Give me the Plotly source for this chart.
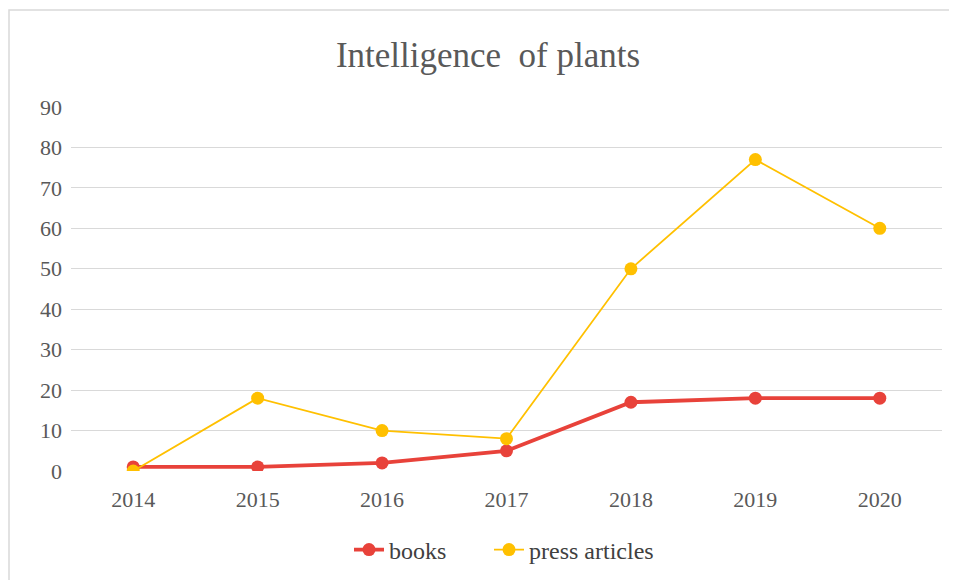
import plotly.graph_objects as go

years = ["2014", "2015", "2016", "2017", "2018", "2019", "2020"]
books = [1, 1, 2, 5, 17, 18, 18]
press_articles = [0, 18, 10, 8, 50, 77, 60]

RED = "#E8423A"
YELLOW = "#FFC000"
TXT = "#595959"
FONT = "Liberation Serif"

fig = go.Figure()
fig.add_trace(go.Scatter(x=years, y=books, name="books", mode="lines+markers",
                         line=dict(color=RED, width=3.8),
                         marker=dict(color=RED, size=13), legend="legend"))
fig.add_trace(go.Scatter(x=years, y=press_articles, name="press articles", mode="lines+markers",
                         line=dict(color=YELLOW, width=1.8),
                         marker=dict(color=YELLOW, size=13), legend="legend2"))

# page body has an 8px margin; compensate so the plot area sits at x 71..942, y 107..471
W, H = 949, 572
L, R, T, B = 63, 15, 99, 109
pw = W - L - R
ph = H - T - B
OX = 8 + L  # page x of plot left edge

leg_common = dict(orientation="h", xanchor="left",
                  y=-(550 - 8 - T - ph) / ph, yanchor="middle",
                  font=dict(family=FONT, size=24, color="#404040"),
                  bgcolor="rgba(0,0,0,0)")

fig.update_layout(
    width=W, height=H,
    margin=dict(l=L, r=R, t=T, b=B, autoexpand=False),
    paper_bgcolor="white", plot_bgcolor="white",
    font=dict(family=FONT, color=TXT, size=22),
    title=dict(text="Intelligence&nbsp;&nbsp;of plants", x=(488 - 8) / W, xanchor="center",
               y=(H - 47) / H, yanchor="middle",
               font=dict(family=FONT, size=35, color=TXT)),
    showlegend=True,
    legend=dict(x=(349 - OX) / pw, **leg_common),
    legend2=dict(x=(489 - OX) / pw, **leg_common),
    xaxis=dict(type="category", range=[-0.5, 6.5], showgrid=False, showline=False,
               zeroline=False, ticks="", ticklabelstandoff=13,
               tickfont=dict(family=FONT, size=22, color=TXT)),
    yaxis=dict(range=[0, 90], dtick=10, showgrid=True, gridcolor="#D9D9D9", gridwidth=1.2,
               zeroline=False, showline=False, ticks="", ticklabelstandoff=8,
               tickfont=dict(family=FONT, size=22, color=TXT)),
    shapes=[dict(type="rect", xref="paper", yref="paper",
                 x0=-(L - 1) / pw, x1=1.1, y0=-0.5, y1=(ph + T - 2) / ph,
                 line=dict(color="#D9D9D9", width=1.5), fillcolor="rgba(0,0,0,0)",
                 layer="below")],
)

fig.write_html("out.html")
